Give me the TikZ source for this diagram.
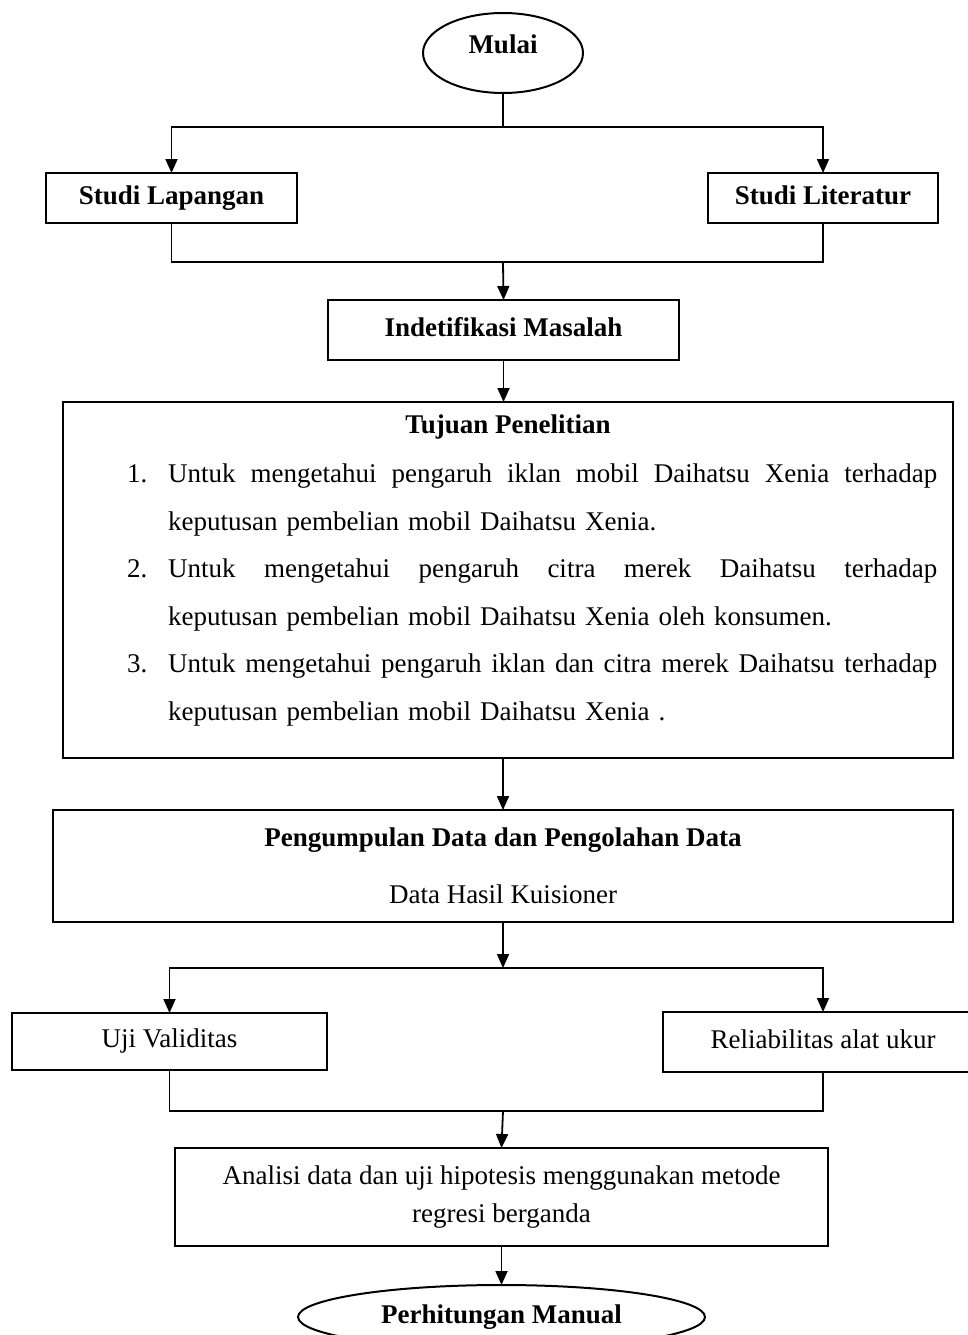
\documentclass[tikz,border=0pt]{standalone}
\usepackage{fontspec}
\setmainfont{Liberation Serif}
\usetikzlibrary{shapes.geometric,arrows.meta}
\usetikzlibrary{positioning}

\newcommand{\rata}[1]{\makebox[769pt][s]{\spaceskip=0.25em plus 1fil\relax #1}}

\tikzset{
  kotak/.style={draw, line width=2pt, rectangle, inner sep=0pt, outer sep=0pt, align=center},
  sebaris/.style={text height=18pt, text depth=6pt},
  elips/.style={draw, line width=2pt, ellipse, inner sep=0pt, outer sep=0pt, font=\bfseries},
  garis/.style={line width=1.8pt},
  panah/.style={line width=1.8pt, -{Triangle[length=14pt,width=12pt]}}
}

\begin{document}
\begin{tikzpicture}[x=1pt, y=-1pt]
    \fontsize{27}{32}\selectfont
    \useasboundingbox (0,0) rectangle (968,1335);

    % Awal dan studi pendahuluan
    \node[elips, minimum width=160pt, minimum height=80pt, text height=18pt, text depth=16pt] (mulai) at (503,53) {Mulai};
    \node[kotak, sebaris, font=\bfseries, minimum width=251pt, minimum height=50pt] (lapangan) at (171.5,198) {Studi Lapangan};
    \node[kotak, sebaris, font=\bfseries, minimum width=230pt, minimum height=50pt] (literatur) at (823,198) {Studi Literatur};
    \node[kotak, sebaris, font=\bfseries, minimum width=351pt, minimum height=60pt] (masalah) at (503.5,330) {Indetifikasi Masalah};

    % Tujuan penelitian
    \node[kotak, minimum width=890pt, minimum height=356pt] (tujuan) at (508,580) {};
    \node[inner sep=0pt, font=\bfseries] (judul) [below=12.6pt of tujuan.north] {Tujuan Penelitian};
    \node[anchor=north west, text width=810pt, align=left, inner sep=0pt,
          font=\fontsize{27}{47.6}\selectfont] (daftar) at (127,463.5) {%
      \makebox[41pt][l]{1.}\rata{Untuk mengetahui pengaruh iklan mobil Daihatsu Xenia terhadap}\\
      \hspace*{41pt}keputusan pembelian mobil Daihatsu Xenia.\\
      \makebox[41pt][l]{2.}\rata{Untuk mengetahui pengaruh citra merek Daihatsu terhadap}\\
      \hspace*{41pt}keputusan pembelian mobil Daihatsu Xenia oleh konsumen.\\
      \makebox[41pt][l]{3.}\rata{Untuk mengetahui pengaruh iklan dan citra merek Daihatsu terhadap}\\
      \hspace*{41pt}keputusan pembelian mobil Daihatsu Xenia .};

    % Data dan pengujian
    \node[kotak, minimum width=900pt, minimum height=112pt, font=\fontsize{27}{57}\selectfont] (data) at (503,866)
      {\textbf{Pengumpulan Data dan Pengolahan Data}\\Data Hasil Kuisioner};
    \node[kotak, sebaris, minimum width=315pt, minimum height=57pt] (validitas) at (169.5,1041.5) {Uji Validitas};
    \node[kotak, sebaris, minimum width=320pt, minimum height=60pt] (reliabilitas) at (823,1042) {Reliabilitas alat ukur};
    \node[kotak, minimum width=653pt, minimum height=98pt, font=\fontsize{27}{38}\selectfont] (analisis) at (501.5,1197)
      {Analisi data dan uji hipotesis menggunakan metode\\regresi berganda};
    \node[elips, sebaris, minimum width=407pt, minimum height=64pt] (manual) at (501.5,1317) {Perhitungan Manual};

    \coordinate (cabang1) at (503,127);
    \coordinate (gabung1) at (503,262);
    \coordinate (cabang2) at (503,968);
    \coordinate (gabung2) at (503,1111);

    \draw[garis] (mulai.south) -- (cabang1);
    \draw[panah] (cabang1) -| (lapangan.north);
    \draw[panah] (cabang1) -| (literatur.north);
    \draw[garis] (lapangan.south) |- (gabung1) -| (literatur.south);
    \draw[panah] (gabung1) -- (masalah.north);
    \draw[panah] (masalah.south) -- (masalah.south |- tujuan.north);
    \draw[panah] (data.north |- tujuan.south) -- (data.north);
    \draw[panah] (data.south) -- (cabang2);
    \draw[panah] (cabang2) -| (validitas.north);
    \draw[panah] (cabang2) -| (reliabilitas.north);
    \draw[garis] (validitas.south) |- (gabung2) -| (reliabilitas.south);
    \draw[panah] (gabung2) -- (analisis.north);
    \draw[panah] (analisis.south) -- (manual.north);
\end{tikzpicture}
\end{document}
